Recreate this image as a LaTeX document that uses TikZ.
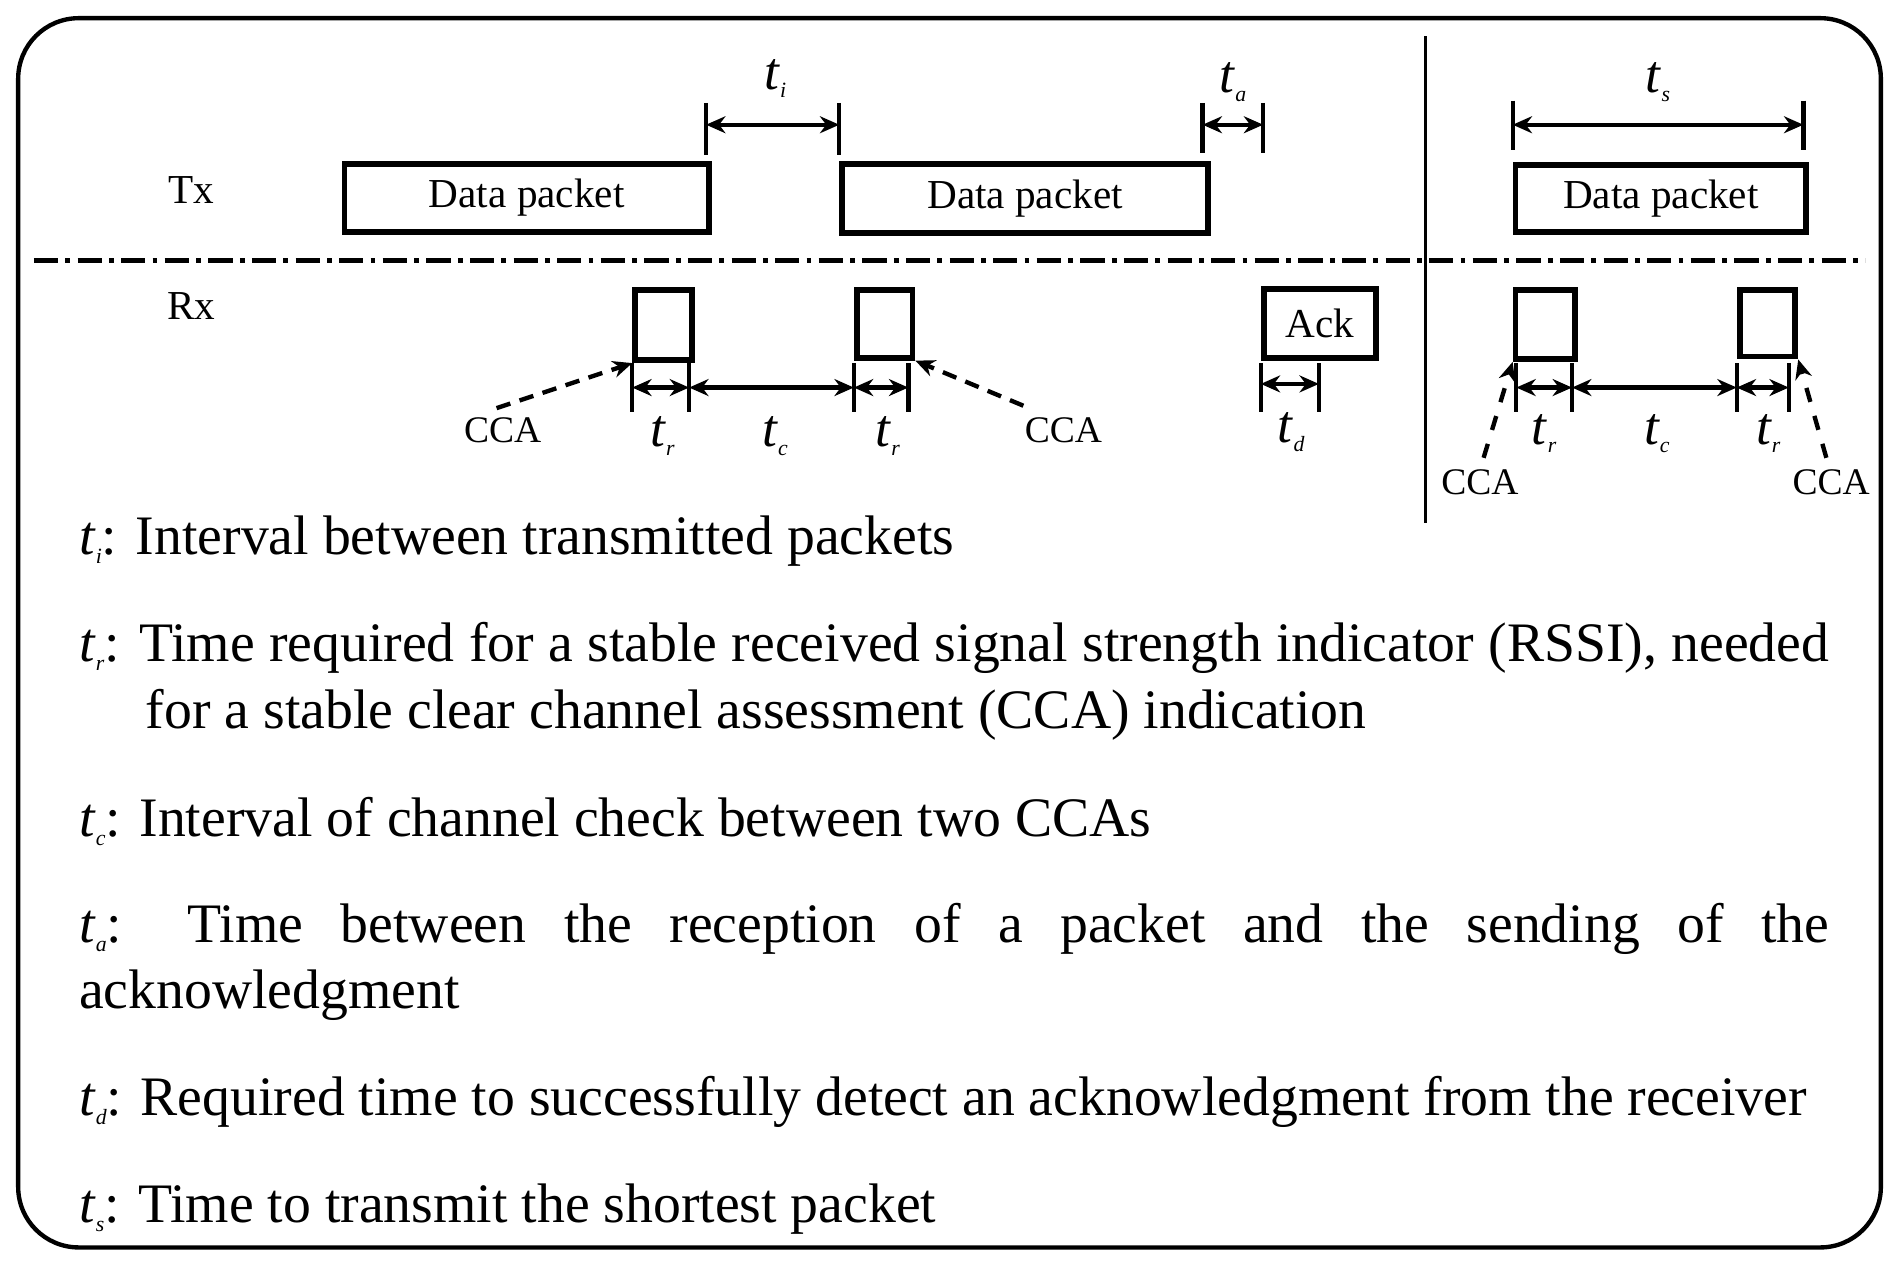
\documentclass[tikz,border=0pt]{standalone}
\usepackage{fontspec}
\setmainfont{Liberation Serif}
\usetikzlibrary{arrows.meta}
\newcommand{\tv}[1]{\textit{t}\raisebox{-0.35ex}{\small\textit{#1}}}
\begin{document}
\begin{tikzpicture}[x=0.5pt,y=-0.5pt,
  box/.style={draw,line width=2.4pt,inner sep=0pt,anchor=north west},
  dim/.style={line width=1.8pt,{Stealth[length=8pt,width=7pt]}-{Stealth[length=8pt,width=7pt]}},
  tick/.style={line width=1.8pt},
  cca/.style={line width=1.8pt,dashed,dash pattern=on 6pt off 4pt,-{Stealth[length=8pt,width=7pt]}},
  lab/.style={font=\fontsize{17}{20}\selectfont},
  sm/.style={font=\fontsize{15.5}{18}\selectfont},
  tl/.style={font=\fontsize{22}{24}\selectfont},
  body/.style={font=\fontsize{23}{27}\selectfont,anchor=west,inner sep=0pt}]
\useasboundingbox (0,0) rectangle (1568,1048);
\draw[line width=1.8pt,rounded corners=25pt] (15,15) rectangle (1553,1030);
\draw[line width=1.4pt] (1177,30) -- (1177,432);
\draw[line width=1.8pt,dash pattern=on 10pt off 3pt on 2pt off 3pt] (28,215) -- (1540,215);
\node[lab] (tx) at (158,157) {Tx};
\node[lab] (rx) at (158,253) {Rx};
% Tx packets
\node[box,minimum width=150.5pt,minimum height=28pt,lab] (p1) at (282,133) {Data packet};
\node[box,minimum width=151pt,minimum height=28.5pt,lab] (p2) at (693,133) {Data packet};
\node[box,minimum width=120pt,minimum height=27.5pt,lab] (p3) at (1249,134) {Data packet};
% ti
\coordinate (a1) at (583,85); \coordinate (a2) at (583,128);
\coordinate (b1) at (693,85); \coordinate (b2) at (693,128);
\draw[tick] (a1)--(a2) (b1)--(b2);
\draw[dim] (583,103) -- (693,103);
\node[tl] (ti) at (640,65) {\tv{i}};
% ta
\draw[tick] (993,85)--(993,126) (1043,85)--(1043,126);
\draw[dim] (993,103) -- (1043,103);
\node[tl] (ta) at (1018,68) {\tv{a}};
% ts
\draw[tick] (1249,83)--(1249,124) (1489,83)--(1489,124);
\draw[dim] (1249,103) -- (1489,103);
\node[tl] (ts) at (1369,68) {\tv{s}};
% Rx boxes
\node[box,minimum width=23.5pt,minimum height=29pt] (r1) at (522,237) {};
\node[box,minimum width=23pt,minimum height=28pt] (r2) at (705,237) {};
\node[box,minimum width=46.5pt,minimum height=28.5pt,lab] (ack) at (1041,236) {Ack};
\node[box,minimum width=24.5pt,minimum height=28.5pt] (r3) at (1249,237) {};
\node[box,minimum width=23pt,minimum height=27.5pt] (r4) at (1434,237) {};
% left section ticks
\draw[tick] (522,300)--(522,340) (569,300)--(569,340) (705,300)--(705,340) (750,300)--(750,340);
\draw[dim] (522,320)--(569,320); \draw[dim] (569,320)--(705,320); \draw[dim] (705,320)--(750,320);
\node[tl] at (547,360) {\tv{r}};
\node[tl] at (640,360) {\tv{c}};
\node[tl] at (733,360) {\tv{r}};
\node[sm] (c1) at (415,355) {CCA};
\node[sm] (c2) at (878,355) {CCA};
\draw[cca] (410,337) -- (r1.south west);
\draw[cca] (845,335) -- (r2.south east);
% td
\draw[tick] (1041,300)--(1041,340) (1089,300)--(1089,340);
\draw[dim] (1041,317)--(1089,317);
\node[tl] at (1066,357) {\tv{d}};
% right section
\draw[tick] (1252,300)--(1252,340) (1298,300)--(1298,340) (1434,300)--(1434,340) (1477,300)--(1477,340);
\draw[dim] (1252,320)--(1298,320); \draw[dim] (1298,320)--(1434,320); \draw[dim] (1434,320)--(1477,320);
\node[tl] at (1275,358) {\tv{r}};
\node[tl] at (1368,358) {\tv{c}};
\node[tl] at (1460,358) {\tv{r}};
\node[sm] (c3) at (1222,398) {CCA};
\node[sm] (c4) at (1512,398) {CCA};
\draw[cca,dash pattern=on 6pt off 6pt] (1225,378) -- (r3.south west);
\draw[cca,dash pattern=on 6pt off 6pt] (1508,378) -- (r4.south east);
% legend
\node[body] (l1) at (65,447) {\tv{i}: Interval between transmitted packets};
\node[body] (l2) at (65,535) {\makebox[722.5pt][s]{\tv{r}: Time required for a stable received signal strength indicator (RSSI), needed}};
\node[body] (l2b) at (120,590) {for a stable clear channel assessment (CCA) indication};
\node[body] (l3) at (65,678) {\tv{c}: Interval of channel check between two CCAs};
\node[body] (l4) at (65,767) {\makebox[722.5pt][s]{\tv{a}: Time between the reception of a packet and the sending of the}};
\node[body] (l4b) at (65,822) {acknowledgment};
\node[body] (l5) at (65,910) {\tv{d}: Required time to successfully detect an acknowledgment from the receiver};
\node[body] (l6) at (65,998) {\tv{s}: Time to transmit the shortest packet};
\end{tikzpicture}
\end{document}
